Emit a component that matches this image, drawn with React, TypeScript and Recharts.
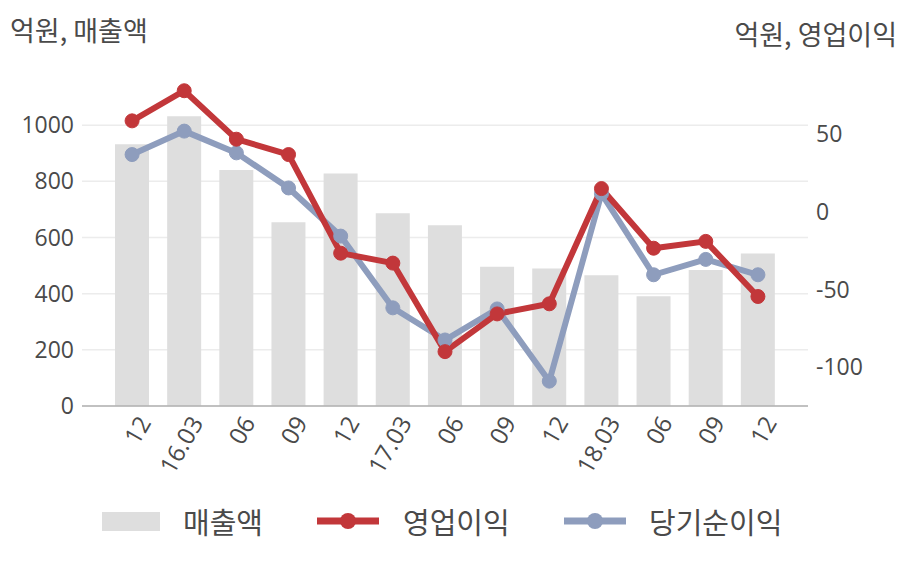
import React from 'react';
import {
  ComposedChart,
  Bar,
  Line,
  XAxis,
  YAxis,
  CartesianGrid
} from 'recharts';

const periods = ['12', '16.03', '06', '09', '12', '17.03', '06', '09', '12', '18.03', '06', '09', '12'];
const sales = [932, 1032, 840, 654, 828, 686, 644, 496, 490, 466, 391, 484, 543];
const operatingProfit = [58.6, 78, 46.8, 36.9, -26.6, -33, -90, -65.7, -59.2, 15, -23.4, -19, -54.5];
const netProfit = [36.9, 52, 38, 15.4, -15.6, -61.8, -82.5, -62.5, -109, 11.7, -40.5, -30.6, -40.5];

const leftTicks = [0, 200, 400, 600, 800, 1000];
const rightTicks = [-100, -50, 0, 50];

const BAR_COLOR = '#dedede';
const RED = '#c2373a';
const BLUE = '#8e9dbd';
const TEXT = '#4a4a4a';
const FONT = '"Noto Sans CJK KR", "Noto Sans", sans-serif';
const NUM_FONT = '"Open Sans", "Noto Sans CJK KR", sans-serif';

const data = periods.map((p, i) => ({
  period: p,
  sales: sales[i],
  op: operatingProfit[i],
  net: netProfit[i]
}));

// rotated period label, nudged a little right/down like the original
const PeriodTick = (props: any) => {
  const { x, y, payload } = props;
  return (
    <g transform={`translate(${x + 5},${y + 8})`}>
      <text
        x={0}
        y={0}
        dy="0.71em"
        textAnchor="end"
        transform="rotate(-60)"
        fill={TEXT}
        fontSize={24}
        fontFamily={NUM_FONT}
      >
        {payload.value}
      </text>
    </g>
  );
};

function LegendLine({ color }: { color: string }) {
  return (
    <svg width={62} height={20} style={{ display: 'block' }}>
      <line x1={0} y1={10} x2={62} y2={10} stroke={color} strokeWidth={7} />
      <circle cx={31} cy={10} r={8} fill={color} />
    </svg>
  );
}

export default function App() {
  return (
    <div style={{ position: 'absolute', left: 0, top: 0, width: 908, height: 580, fontFamily: FONT, color: TEXT }}>
      <div style={{ position: 'absolute', left: 10, top: 10, fontSize: 27 }}>억원, 매출액</div>
      <div style={{ position: 'absolute', right: 11, top: 14, fontSize: 27 }}>억원, 영업이익</div>

      <ComposedChart
        width={908}
        height={580}
        data={data}
        margin={{ top: 69, right: 0, left: 0, bottom: 94 }}
      >
        <CartesianGrid
          yAxisId="left"
          vertical={false}
          syncWithTicks
          stroke="#ececec"
          strokeWidth={1.5}
        />
        <XAxis
          dataKey="period"
          height={80}
          padding={{ left: 24, right: 24 }}
          tickLine={false}
          axisLine={{ stroke: '#b0b0b0', strokeWidth: 1.5 }}
          interval={0}
          tickSize={0}
          tickMargin={0}
          tick={<PeriodTick />}
        />
        <YAxis
          yAxisId="left"
          width={82}
          domain={[0, 1200]}
          ticks={leftTicks}
          allowDataOverflow
          axisLine={false}
          tickLine={false}
          tick={{ fill: TEXT, fontSize: 23, fontFamily: NUM_FONT }}
        />
        <YAxis
          yAxisId="right"
          orientation="right"
          width={100}
          domain={[-125, 92]}
          ticks={rightTicks}
          allowDataOverflow
          axisLine={false}
          tickLine={false}
          tick={{ fill: TEXT, fontSize: 23, fontFamily: NUM_FONT }}
        />
        <Bar yAxisId="left" dataKey="sales" name="매출액" fill={BAR_COLOR} barSize={34} isAnimationActive={false} />
        <Line
          yAxisId="right"
          dataKey="net"
          name="당기순이익"
          stroke={BLUE}
          strokeWidth={6}
          dot={{ r: 7, fill: BLUE, stroke: BLUE, strokeWidth: 1 }}
          activeDot={false}
          isAnimationActive={false}
        />
        <Line
          yAxisId="right"
          dataKey="op"
          name="영업이익"
          stroke={RED}
          strokeWidth={6}
          dot={{ r: 7, fill: RED, stroke: RED, strokeWidth: 1 }}
          activeDot={false}
          isAnimationActive={false}
        />
      </ComposedChart>

      <div
        style={{
          position: 'absolute',
          left: 0,
          top: 502,
          width: 908,
          height: 38,
          display: 'flex',
          alignItems: 'center',
          fontSize: 29
        }}
      >
        <div style={{ position: 'absolute', left: 102, display: 'flex', alignItems: 'center' }}>
          <div style={{ width: 58, height: 19, background: BAR_COLOR }} />
          <span style={{ marginLeft: 23 }}>매출액</span>
        </div>
        <div style={{ position: 'absolute', left: 317, display: 'flex', alignItems: 'center' }}>
          <LegendLine color={RED} />
          <span style={{ marginLeft: 24 }}>영업이익</span>
        </div>
        <div style={{ position: 'absolute', left: 564, display: 'flex', alignItems: 'center' }}>
          <LegendLine color={BLUE} />
          <span style={{ marginLeft: 23 }}>당기순이익</span>
        </div>
      </div>
    </div>
  );
}
